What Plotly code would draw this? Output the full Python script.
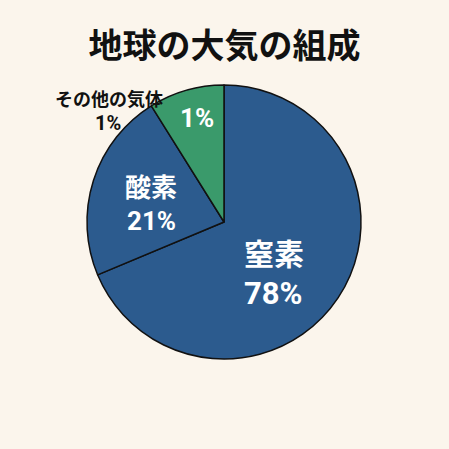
import plotly.graph_objects as go

categories = ["窒素", "酸素", "その他の気体"]
# slice sizes as drawn in the picture (share of the circle)
slice_sizes = [68.7, 22.4, 8.9]
# percentages printed on the chart
pct_labels = ["78%", "21%", "1%"]

colors = ["#2c5b8e", "#2c5b8e", "#3a9a6b"]
W = H = 449
CJK = "Noto Sans CJK JP"
NUM = "Roboto"

fig = go.Figure(go.Pie(
    labels=categories,
    values=slice_sizes,
    customdata=pct_labels,
    textinfo="none",
    sort=False,
    direction="clockwise",
    rotation=0,
    marker=dict(colors=colors, line=dict(color="#111111", width=1.5)),
    domain=dict(x=[87/W, 361/W], y=[1-359/H, 1-85/H]),
    showlegend=False,
    hovertemplate="%{label}: %{customdata}<extra></extra>",
))

def txt(s, x, y, size, color, family):
    fig.add_annotation(text=f"<b>{s}</b>", x=x/W, y=1-y/H, xref="paper", yref="paper",
                       xanchor="center", yanchor="middle", showarrow=False, align="center",
                       borderpad=0, font=dict(family=family, size=size, color=color))

# inside labels
txt(categories[0], 274, 252, 30, "white", CJK)
txt(pct_labels[0], 273, 293, 31, "white", NUM)
txt(categories[1], 151, 185, 26, "white", CJK)
txt(pct_labels[1], 151, 221, 26, "white", NUM)
txt(pct_labels[2], 197, 118, 26, "white", NUM)
# outside label for the small slice
txt(categories[2], 109, 98, 18, "#111111", CJK)
txt(pct_labels[2], 108, 123, 20, "#111111", NUM)

fig.update_layout(
    width=W, height=H,
    margin=dict(l=0, r=0, t=0, b=0),
    paper_bgcolor="#fbf5ec",
    plot_bgcolor="#fbf5ec",
    title=dict(text="<b>地球の大気の組成</b>", x=0.5, xanchor="center", y=1-46/H, yanchor="middle",
               font=dict(family=CJK, size=34, color="#111111")),
)

fig.write_html("out.html")
